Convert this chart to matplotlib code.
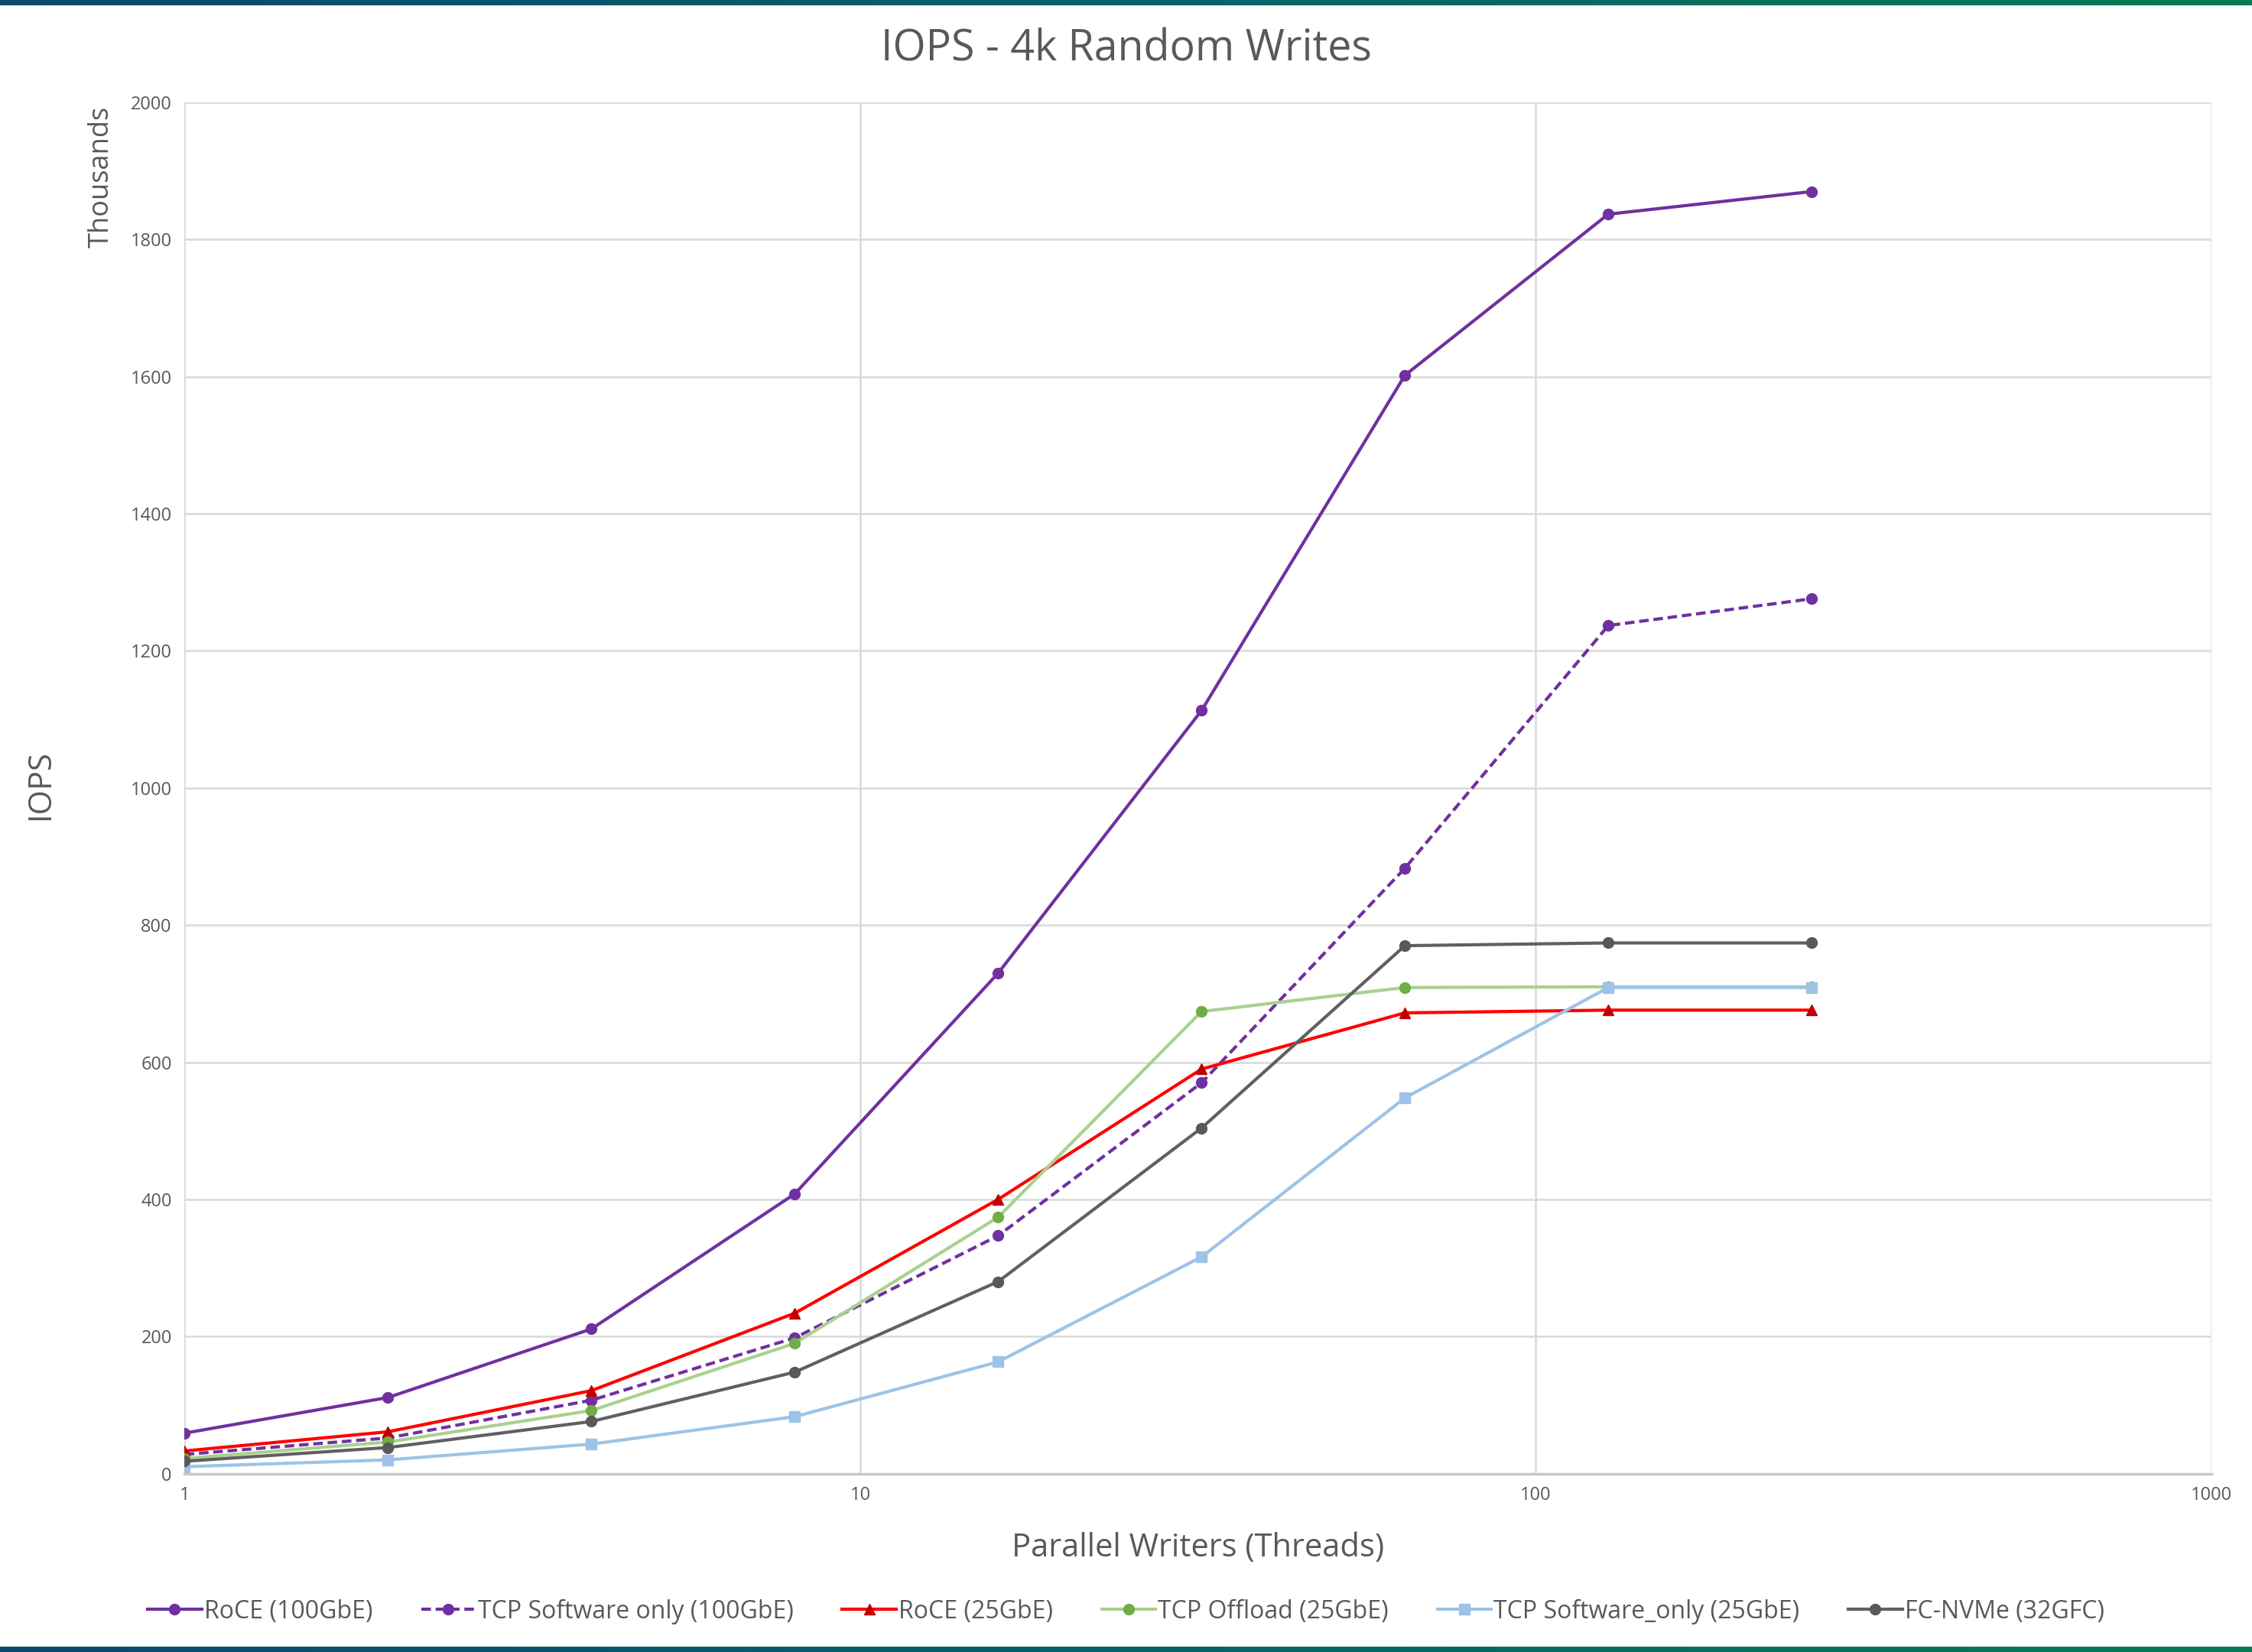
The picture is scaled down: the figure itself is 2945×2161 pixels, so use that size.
import numpy as np
import matplotlib.pyplot as plt
from matplotlib.ticker import FixedLocator, FixedFormatter, NullLocator
from matplotlib.colors import LinearSegmentedColormap

plt.rcParams['font.family'] = ['Open Sans', 'DejaVu Sans']

# Datos (miles de IOPS)
threads = [1, 2, 4, 8, 16, 32, 64, 128, 256]
roce_100 = [59, 111, 211, 408, 730, 1113, 1602, 1837, 1870]
tcp_sw_100 = [28, 52, 107, 198, 347, 570, 883, 1237, 1276]
roce_25 = [33, 61, 121, 234, 400, 590, 672, 676, 676]
tcp_off_25 = [22, 46, 92, 190, 374, 674, 709, 710, 710]
tcp_sw_25 = [10, 20, 43, 83, 163, 316, 548, 709, 709]
fc_nvme = [18, 38, 76, 148, 280, 504, 770, 774, 774]

x_ticks = [1, 10, 100, 1000]
y_ticks = list(range(0, 2001, 200))

fig = plt.figure(figsize=(29.45, 21.61), dpi=100)
ax = fig.add_axes([0.082, 0.108, 0.9, 0.83])

series = [
    (roce_100, 'RoCE (100GbE)', '#7030a0', '#7030a0', 'o', '-'),
    (tcp_sw_100, 'TCP Software only (100GbE)', '#7030a0', '#7030a0', 'o', (0, (3, 1.5))),
    (roce_25, 'RoCE (25GbE)', '#ff0000', '#c00000', '^', '-'),
    (tcp_off_25, 'TCP Offload (25GbE)', '#a9d18e', '#70ad47', 'o', '-'),
    (tcp_sw_25, 'TCP Software_only (25GbE)', '#9dc3e6', '#9dc3e6', 's', '-'),
    (fc_nvme, 'FC-NVMe (32GFC)', '#606060', '#595959', 'o', '-'),
]
for vals, name, lc, mc, mk, ls in series:
    ax.plot(threads, vals, color=lc, linestyle=ls, linewidth=3,
            marker=mk, markersize=10, markerfacecolor=mc, markeredgecolor=mc,
            label=name)

ax.set_xscale('log')
ax.set_xlim(1, 1000)
ax.set_ylim(0, 2000)
ax.xaxis.set_major_locator(FixedLocator(x_ticks))
ax.xaxis.set_major_formatter(FixedFormatter([str(t) for t in x_ticks]))
ax.xaxis.set_minor_locator(NullLocator())
ax.set_yticks(y_ticks)
ax.grid(True, color='#d9d9d9', linewidth=1.8)
ax.set_axisbelow(True)
for s in ['top', 'right', 'left']:
    ax.spines[s].set_visible(False)
ax.spines['bottom'].set_color('#c8c8c8')
ax.spines['bottom'].set_linewidth(2.5)
ax.tick_params(length=0, labelsize=17, labelcolor='#595959', pad=12)

ax.set_xlabel('Parallel Writers (Threads)', fontsize=30, color='#595959', labelpad=26)
fig.text(0.018, 0.525, 'IOPS', rotation=90, fontsize=30, color='#595959',
         ha='center', va='center')
fig.text(0.045, 0.893, 'Thousands', rotation=90, fontsize=26, color='#595959',
         ha='center', va='center')
fig.text(0.5, 0.97, 'IOPS - 4k Random Writes', fontsize=40, color='#595959',
         ha='center', va='center')

fig.legend(loc='center', bbox_to_anchor=(0.5, 0.0245), ncol=6, frameon=False,
           fontsize=23, labelcolor='#595959', handlelength=2.2, columnspacing=2.0,
           handletextpad=0.1)

# bandas de color arriba y abajo
grad = np.linspace(0, 1, 256).reshape(1, -1)
cmap = LinearSegmentedColormap.from_list('band', ['#0b4870', '#05626a', '#057a55'])
for y0 in [0.9968, 0.0]:
    bax = fig.add_axes([0, y0, 1, 0.0032])
    bax.imshow(grad, aspect='auto', cmap=cmap)
    bax.axis('off')

fig.savefig('out.png', dpi=100)
